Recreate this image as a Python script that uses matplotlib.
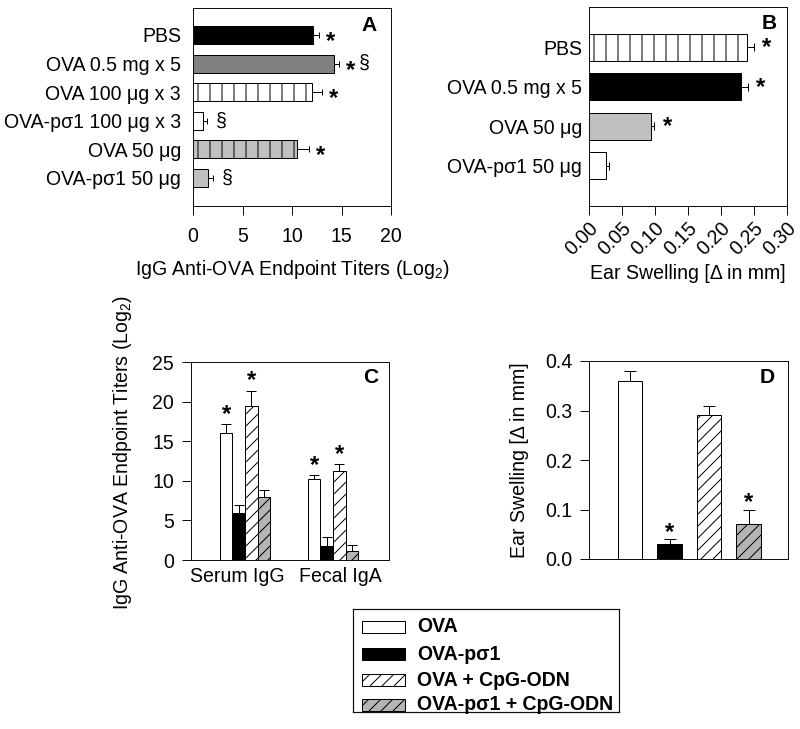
import matplotlib
matplotlib.use("Agg")
import matplotlib.pyplot as plt
from matplotlib.patches import Rectangle
from matplotlib.transforms import ScaledTranslation
import numpy as np

plt.rcParams['font.family'] = ['Liberation Sans', 'DejaVu Sans']
plt.rcParams['mathtext.fontset'] = 'custom'
plt.rcParams['mathtext.rm'] = 'Liberation Sans'
plt.rcParams['mathtext.it'] = 'Liberation Sans:italic'
plt.rcParams['mathtext.bf'] = 'Liberation Sans:bold'
plt.rcParams['hatch.linewidth'] = 1.0

# ---------------- data ----------------
# Panel A
a_labels = ["PBS", "OVA 0.5 mg x 5", "OVA 100 \u03bcg x 3", "OVA-p\u03c31 100 \u03bcg x 3",
            "OVA 50 \u03bcg", "OVA-p\u03c31 50 \u03bcg"]
a_values = [12.1, 14.2, 12.0, 1.0, 10.5, 1.5]
a_err = [0.6, 0.5, 1.0, 0.4, 1.2, 0.5]
a_marks = ["*", "*\u00a7", "*", "\u00a7", "*", "\u00a7"]
a_colors = ["black", "#808080", "white", "white", "#c0c0c0", "#c0c0c0"]
a_hatches = ["", "", "|", "", "|", ""]
a_xticks = [0, 5, 10, 15, 20]

# Panel B
b_labels = ["PBS", "OVA 0.5 mg x 5", "OVA 50 \u03bcg", "OVA-p\u03c31 50 \u03bcg"]
b_values = [0.239, 0.230, 0.094, 0.025]
b_err = [0.011, 0.011, 0.005, 0.005]
b_marks = ["*", "*", "*", ""]
b_colors = ["white", "black", "#c0c0c0", "white"]
b_hatches = ["|", "", "", ""]
b_xticks = [0.00, 0.05, 0.10, 0.15, 0.20, 0.25, 0.30]
b_xticklabels = ["0.00", "0.05", "0.10", "0.15", "0.20", "0.25", "0.30"]

# Panels C and D (shared series)
series = ["OVA", "OVA-p\u03c31", "OVA + CpG-ODN", "OVA-p\u03c31 + CpG-ODN"]
series_colors = ["white", "black", "white", "#b4b4b4"]
series_hatches = ["", "", "//", "//"]

c_groups = ["Serum IgG", "Fecal IgA"]
c_values = [[16.0, 10.2], [5.9, 1.8], [19.4, 11.2], [8.0, 1.1]]
c_err = [[1.2, 0.5], [1.0, 1.1], [2.0, 0.9], [0.8, 0.8]]
c_stars = [[True, True], [False, False], [True, True], [False, False]]
c_yticks = [0, 5, 10, 15, 20, 25]

d_values = [0.36, 0.03, 0.29, 0.07]
d_err = [0.02, 0.01, 0.02, 0.03]
d_stars = [False, True, False, True]
d_yticks = [0.0, 0.1, 0.2, 0.3, 0.4]
d_yticklabels = ["0.0", "0.1", "0.2", "0.3", "0.4"]

# ---------------- figure ----------------
DPI = 72
W, H = 800, 729
fig = plt.figure(figsize=(W / DPI, H / DPI), dpi=DPI)

FS = 19.5
STAR_FS = 24
SPINE = '#111111'


def px_axes(l, t, r, b):
    return fig.add_axes([l / W, 1 - b / H, (r - l) / W, (b - t) / H])


def style(ax):
    for s in ax.spines.values():
        s.set_linewidth(1.0)
        s.set_color(SPINE)
    ax.tick_params(direction='out', length=9, width=1, labelsize=FS, color=SPINE)


def star(ax, x, y, dx, dy):
    ax.annotate("*", xy=(x, y), xytext=(dx, dy), textcoords='offset points',
                ha='center', va='baseline', fontsize=STAR_FS, fontweight='bold')


def section(ax, x, y, dx):
    ax.annotate("\u00a7", xy=(x, y), xytext=(dx, 0), textcoords='offset points',
                ha='center', va='center', fontsize=FS)


# ---- Panel A ----
axA = px_axes(193, 8, 391, 206)
style(axA)
ya = np.arange(len(a_labels))
bars = axA.barh(ya, a_values, height=0.63, color=a_colors, edgecolor='black', linewidth=1)
for p, h in zip(bars, a_hatches):
    p.set_hatch(h)
axA.errorbar(a_values, ya, xerr=[np.zeros(len(a_err)), a_err], fmt='none',
             ecolor='black', elinewidth=1, capsize=3, capthick=1)
for i, m in enumerate(a_marks):
    xe = a_values[i] + a_err[i]
    if "*" in m:
        star(axA, xe, i, 12, -13)
        if "\u00a7" in m:
            section(axA, xe, i, 26)
    elif "\u00a7" in m:
        section(axA, xe, i, 14)
axA.set_xlim(0, 20)
axA.set_ylim(5.98, -0.944)
axA.set_xticks(a_xticks)
axA.set_yticks(ya, a_labels)
axA.tick_params(axis='y', length=0, pad=12)
axA.tick_params(axis='x', pad=12)
axA.set_xlabel("IgG Anti-OVA Endpoint Titers (Log$_2$)", fontsize=FS)
axA.xaxis.set_label_coords(0.5, -0.323)
axA.xaxis.label.set_verticalalignment('center')
axA.text(0.889, 0.914, "A", transform=axA.transAxes, ha='center', va='center',
         fontsize=21, fontweight='bold')

# ---- Panel B ----
axB = px_axes(589, 7, 787, 206)
style(axB)
yb = np.arange(len(b_labels))
bars = axB.barh(yb, b_values, height=0.68, color=b_colors, edgecolor='black', linewidth=1)
for p, h in zip(bars, b_hatches):
    p.set_hatch(h)
axB.errorbar(b_values, yb, xerr=[np.zeros(len(b_err)), b_err], fmt='none',
             ecolor='black', elinewidth=1, capsize=4, capthick=1)
for i, m in enumerate(b_marks):
    if "*" in m:
        star(axB, b_values[i] + b_err[i], i, 13, -7)
axB.set_xlim(0, 0.30)
axB.set_ylim(4.01, -1.01)
axB.set_xticks(b_xticks, b_xticklabels, rotation=45, ha='right', rotation_mode='anchor')
axB.set_yticks(yb, b_labels)
axB.tick_params(axis='y', length=0, pad=7)
axB.tick_params(axis='x', pad=4)
axB.set_xlabel("Ear Swelling [\u0394 in mm]", fontsize=FS)
axB.xaxis.set_label_coords(0.5, -0.337)
axB.xaxis.label.set_verticalalignment('center')
axB.text(0.909, 0.915, "B", transform=axB.transAxes, ha='center', va='center',
         fontsize=21, fontweight='bold')

# ---- Panel C ----
axC = px_axes(191, 362, 389, 560)
style(axC)
xg = np.arange(len(c_groups))
w = 0.143
for i in range(len(series)):
    x = xg + (i - 1.5) * w
    axC.bar(x, c_values[i], width=w, color=series_colors[i], edgecolor='black',
            linewidth=1, hatch=series_hatches[i])
    axC.errorbar(x, c_values[i], yerr=[np.zeros(len(x)), c_err[i]], fmt='none',
                 ecolor='black', elinewidth=1, capsize=5, capthick=1)
    for j in range(len(x)):
        if c_stars[i][j]:
            star(axC, x[j], c_values[i][j] + c_err[i][j], 0, 3)
axC.set_xlim(-0.614, 1.636)
axC.set_ylim(0, 25)
axC.set_yticks(c_yticks)
axC.set_xticks(xg, c_groups)
axC.tick_params(axis='x', length=0, pad=7)
axC.tick_params(axis='y', pad=8)
for lab, shift in zip(axC.get_xticklabels(), [-8, 7]):
    lab.set_transform(lab.get_transform() + ScaledTranslation(shift / DPI, 0, fig.dpi_scale_trans))
axC.set_ylabel("IgG Anti-OVA Endpoint Titers (Log$_2$)", fontsize=FS)
axC.yaxis.set_label_coords(-0.348, 0.54)
axC.yaxis.label.set_verticalalignment('center')
axC.text(0.909, 0.924, "C", transform=axC.transAxes, ha='center', va='center',
         fontsize=21, fontweight='bold')

# ---- Panel D ----
axD = px_axes(589, 361, 788, 559)
style(axD)
xd = np.arange(len(series))
for i in range(len(series)):
    axD.bar(xd[i], d_values[i], width=0.62, color=series_colors[i], edgecolor='black',
            linewidth=1, hatch=series_hatches[i])
axD.errorbar(xd, d_values, yerr=[np.zeros(len(d_err)), d_err], fmt='none',
             ecolor='black', elinewidth=1, capsize=6, capthick=1)
for i in range(len(series)):
    if d_stars[i]:
        star(axD, xd[i], d_values[i] + d_err[i], 0, 0)
axD.set_xlim(-1.04, 4.0)
axD.set_ylim(0, 0.4)
axD.set_yticks(d_yticks, d_yticklabels)
axD.set_xticks([])
axD.tick_params(axis='y', pad=8)
axD.set_ylabel("Ear Swelling [\u0394 in mm]", fontsize=FS)
axD.yaxis.set_label_coords(-0.347, 0.5)
axD.yaxis.label.set_verticalalignment('center')
axD.text(0.894, 0.919, "D", transform=axD.transAxes, ha='center', va='center',
         fontsize=21, fontweight='bold')

# ---- Legend (pixel-unit axes) ----
lx0, ly0, lx1, ly1 = 353, 609, 619, 712
axL = px_axes(lx0, ly0, lx1, ly1)
axL.set_xlim(0, lx1 - lx0)
axL.set_ylim(ly1 - ly0, 0)
axL.set_xticks([])
axL.set_yticks([])
for s in axL.spines.values():
    s.set_linewidth(1.2)
    s.set_color(SPINE)
row_y = [18, 45, 71, 96]
for i, name in enumerate(series):
    axL.add_patch(Rectangle((9, row_y[i] - 6), 43, 12, facecolor=series_colors[i],
                            edgecolor='black', linewidth=1, hatch=series_hatches[i]))
    axL.text(64, row_y[i], name, ha='left', va='center', fontsize=19.5, fontweight='bold')

fig.savefig("out.png", dpi=DPI)
